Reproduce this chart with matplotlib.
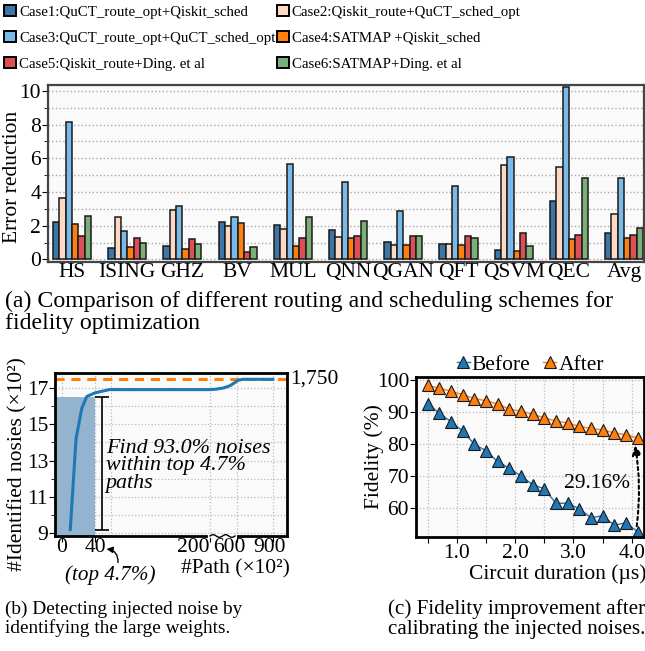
import numpy as np
import matplotlib.pyplot as plt
from matplotlib.patches import Patch

plt.rcParams['font.family'] = ['Liberation Serif', 'DejaVu Serif']
plt.rcParams['mathtext.fontset'] = 'stix'

# (a) error reduction per benchmark
benchmarks = ['HS', 'ISING', 'GHZ', 'BV', 'MUL', 'QNN', 'QGAN', 'QFT', 'QSVM', 'QEC', 'Avg']
case_names = ['Case1:QuCT_route_opt+Qiskit_sched', 'Case2:Qiskit_route+QuCT_sched_opt',
              'Case3:QuCT_route_opt+QuCT_sched_opt', 'Case4:SATMAP +Qiskit_sched',
              'Case5:Qiskit_route+Ding. et al', 'Case6:SATMAP+Ding. et al']
case1 = [2.25, 0.69, 0.77, 2.25, 2.06, 1.76, 1.03, 0.93, 0.57, 3.48, 1.58]
case2 = [3.62, 2.49, 2.96, 1.96, 1.78, 1.34, 0.87, 0.91, 5.61, 5.49, 2.69]
case3 = [8.16, 1.70, 3.20, 2.49, 5.67, 4.60, 2.88, 4.37, 6.09, 10.25, 4.82]
case4 = [2.11, 0.75, 0.65, 2.17, 0.77, 1.28, 0.87, 0.87, 0.51, 1.23, 1.26]
case5 = [1.42, 1.28, 1.23, 0.47, 1.28, 1.40, 1.40, 1.40, 1.58, 1.46, 1.46]
case6 = [2.59, 0.95, 0.89, 0.75, 2.49, 2.29, 1.40, 1.26, 0.81, 4.82, 1.86]
case_colors = ['#3b76a6', '#fdd8c5', '#79bae9', '#ff7f0e', '#dc4f55', '#7ab077']

# (b) identified noises vs number of paths (both x10^2)
paths = [10, 17, 24, 30, 40, 60, 100, 150, 200, 280, 400, 500, 560, 610, 650, 900]
identified = [9.18, 14.2, 15.9, 16.55, 16.75, 16.93, 16.93, 16.93, 16.93, 16.95, 17.02, 17.15, 17.3, 17.45, 17.5, 17.5]
total_noises = 17.5
top_paths = 40
found_level = 16.5
path_ticks = [0, 40, 200, 600, 900]
path_label_shift = [0, 0, -17, -8, -3]   # pixels, labels sit left of their gridlines

# (c) fidelity vs circuit duration
duration = [0.5, 0.7, 0.9, 1.1, 1.3, 1.5, 1.7, 1.9, 2.1, 2.3, 2.5, 2.7, 2.9, 3.1, 3.3, 3.5, 3.7, 3.9, 4.1]
before = [92.5, 89.5, 86.9, 84.0, 79.9, 77.8, 74.5, 72.4, 70.0, 67.3, 66.0, 61.5, 61.5, 59.8, 57.0, 57.6, 54.7, 55.4, 52.7]
after = [98.2, 97.3, 96.4, 95.3, 94.1, 93.4, 92.4, 90.8, 90.2, 89.2, 88.1, 87.1, 86.5, 85.4, 84.8, 84.3, 83.4, 82.8, 81.9]

W, H = 645, 651
fig = plt.figure(figsize=(W / 100, H / 100), dpi=100)


def box(l, t, r, b):
    return [l / W, 1 - b / H, (r - l) / W, (b - t) / H]


def style_axes(ax, lw=1.8, col='black'):
    ax.set_facecolor('#fafafa')
    for s in ax.spines.values():
        s.set_linewidth(lw)
        s.set_color(col)
        s.set_zorder(5)


# ---------- (a) ----------
ax1 = fig.add_axes(box(48, 85, 644, 262))
style_axes(ax1, 1.6, '#444444')
x = np.arange(len(benchmarks))
bw = 0.115
all_cases = [case1, case2, case3, case4, case5, case6]
for i, vals in enumerate(all_cases):
    ax1.bar(x + (i - 2.5) * bw, vals, bw, color=case_colors[i], edgecolor='#1a1a1a',
            linewidth=1.1, label=case_names[i], zorder=3)
ax1.set_xlim(-0.435, 10.36)
ax1.set_ylim(-0.15, 10.35)
ax1.set_yticks([0, 2, 4, 6, 8, 10])
ax1.set_yticks([1, 3, 5, 7, 9], minor=True)
ax1.yaxis.grid(True, which='both', linestyle=':', color='#aaaaaa', linewidth=1)
ax1.set_xticks(x)
ax1.set_xticklabels(benchmarks, fontsize=15.5)
ax1.tick_params(axis='x', length=0, pad=1)
ax1.tick_params(axis='y', labelsize=15.5, pad=1, length=4)
ax1.tick_params(axis='y', which='minor', length=3)
ax1.set_ylabel('Error reduction', fontsize=15.5)
ax1.yaxis.set_label_coords(-0.044, 0.48)

# legend is filled column-wise, so order entries to read row by row
order = [0, 2, 4, 1, 3, 5]
leg_handles = [Patch(facecolor=case_colors[k], edgecolor='black', linewidth=1.4) for k in order]
fig.legend(leg_handles, [case_names[k] for k in order], ncol=2, loc='upper left',
           bbox_to_anchor=(-0.007, 1.006), frameon=False, fontsize=10.75, handlelength=0.78,
           handleheight=0.78, handletextpad=0.2, columnspacing=0.1, labelspacing=0.82, borderaxespad=0.2)

fig.text(5 / W, 1 - 312 / H, '(a) Comparison of different routing and scheduling schemes for\nfidelity optimization',
         fontsize=17.2, va='center', ha='left', linespacing=1.06)

# ---------- (b) ----------
ax2 = fig.add_axes(box(55, 373, 287, 536))
style_axes(ax2, 2.0)
real_knots = [-100, 0, 40, 200, 600, 900, 1300]
pos_knots = [-100, 0, 40, 179.4, 212, 255.6, 314.2]


def fwd(v):
    return np.interp(v, real_knots, pos_knots)


def inv(v):
    return np.interp(v, pos_knots, real_knots)


ax2.set_xscale('function', functions=(fwd, inv))
ax2.set_xlim(inv(-8.5), inv(272.7))
ax2.set_ylim(8.82, 17.85)
ax2.fill_between([-50, top_paths], 8.0, found_level, color='#93b3cf', zorder=2, linewidth=0)
ax2.plot(paths, identified, color='#1f77b4', linewidth=2.2, zorder=4)
ax2.axhline(total_noises, color='#ff7f0e', linestyle='--', linewidth=2.2, dashes=(3, 2.2), zorder=3)
ax2.errorbar([50], [(identified[0] + found_level) / 2], yerr=[(found_level - identified[0]) / 2],
             color='black', capsize=5, linewidth=1.2, capthick=1.2, zorder=4)
ax2.set_xticks(path_ticks)
ax2.set_xticks([62], minor=True)
ax2.set_xticklabels([])
for t, dx in zip(path_ticks, path_label_shift):
    ax2.annotate(str(t), xy=(t, 0), xycoords=('data', 'axes fraction'), xytext=(dx, -12),
                 textcoords='offset pixels', ha='center', va='center', fontsize=15.5, annotation_clip=False)
ax2.set_yticks([9, 11, 13, 15, 17])
ax2.set_yticks([10, 12, 14, 16], minor=True)
ax2.grid(True, which='both', linestyle=':', color='#bbbbbb', linewidth=0.9)
ax2.tick_params(labelsize=15.5, pad=1, length=4)
ax2.tick_params(which='minor', length=3)
ax2.tick_params(axis='x', which='minor', length=0)
ax2.set_ylabel('#Identified nosies (×10²)', fontsize=15.5)
ax2.yaxis.set_label_coords(-0.12, 0.44)
ax2.text(1.013, -0.2, '#Path (×10²)', transform=ax2.transAxes, fontsize=15.5, ha='right', va='center')
ax2.text(55, 12.7, 'Find 93.0% noises\nwithin top 4.7%\npaths', fontsize=15.8, style='italic',
         ha='left', va='center', linespacing=0.92, zorder=5)
ax2.text(1.012, (total_noises - 8.82) / (17.85 - 8.82), '1,750', transform=ax2.transAxes,
         fontsize=15.5, ha='left', va='center')
ax2.text(61, 6.65, '(top 4.7%)', fontsize=15.2, style='italic', ha='center', va='center')
ax2.annotate('', xy=(56, 8.1), xytext=(72, 7.35), annotation_clip=False,
             arrowprops=dict(arrowstyle='-|>', color='black', lw=1, mutation_scale=9,
                             connectionstyle='arc3,rad=0.45', shrinkA=0, shrinkB=0))
# axis break mark on the bottom spine
t = np.linspace(0.668, 0.776, 60)
ax2.plot(t, np.zeros_like(t), color='white', linewidth=3, transform=ax2.transAxes, clip_on=False, zorder=6)
ax2.plot(t, 0.008 * np.sin((t - 0.668) / 0.108 * 4 * np.pi), color='black', linewidth=1,
         transform=ax2.transAxes, clip_on=False, zorder=7)

fig.text(5 / W, 1 - 619 / H, '(b) Detecting injected noise by\nidentifying the large weights.',
         fontsize=13.9, va='center', ha='left', linespacing=1.12)

# ---------- (c) ----------
ax3 = fig.add_axes(box(416, 377, 644.5, 537))
style_axes(ax3, 2.0)
ax3.plot(duration, before, color='#1f77b4', linewidth=1, marker='^', markersize=9,
         markerfacecolor='#1f77b4', markeredgecolor='#1a1a1a', markeredgewidth=0.8, label='Before', zorder=4)
ax3.plot(duration, after, color='#ff7f0e', linewidth=1, marker='^', markersize=9,
         markerfacecolor='#ff7f0e', markeredgecolor='#1a1a1a', markeredgewidth=0.8, label='After', zorder=4)
ax3.set_xlim(0.3, 4.22)
ax3.set_ylim(51.0, 100.8)
ax3.set_xticks(np.arange(0.5, 4.01, 0.5))
ax3.set_xticklabels(['' if v % 1 else f'{v:.1f}' for v in np.arange(0.5, 4.01, 0.5)])
ax3.set_yticks([60, 70, 80, 90, 100])
ax3.grid(True, linestyle=':', color='#bbbbbb', linewidth=0.9)
ax3.tick_params(labelsize=15.5, pad=1, length=4)
ax3.set_xlabel('Circuit duration (µs)', fontsize=15.5, labelpad=0)
ax3.xaxis.set_label_coords(0.62, -0.17)
ax3.set_ylabel('Fidelity (%)', fontsize=15.5)
ax3.yaxis.set_label_coords(-0.14, 0.5)
ax3.annotate('', xy=(duration[-1] - 0.05, after[-1] - 1.5), xytext=(duration[-1] - 0.02, before[-1] + 0.8),
             arrowprops=dict(arrowstyle='-|>', color='black', lw=1.5, linestyle=(0, (1.5, 1.5)),
                             connectionstyle='arc3,rad=0.08', mutation_scale=14))
ax3.text(3.97, 67.8, '29.16%', fontsize=15.5, ha='right', va='center')
ax3.legend(loc='lower center', bbox_to_anchor=(0.5, 0.96), ncol=2, frameon=False, fontsize=15.5,
           handlelength=0.6, handletextpad=0.1, columnspacing=0.6, borderaxespad=0)

fig.text(388 / W, 1 - 619 / H, '(c) Fidelity improvement after\ncalibrating the injected noises.',
         fontsize=15.2, va='center', ha='left', linespacing=1.02)

fig.savefig('out.png', dpi=100)
